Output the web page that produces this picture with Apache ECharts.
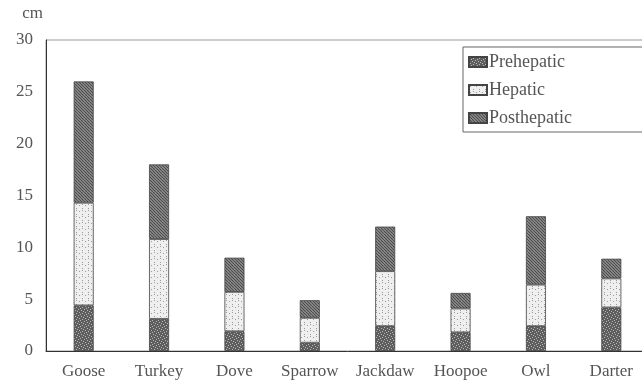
<!DOCTYPE html>
<html>
<head>
<meta charset="utf-8">
<script src="https://cdn.jsdelivr.net/npm/echarts@6/dist/echarts.min.js"></script>
<style>
  html, body { margin: 0; padding: 0; background: #fff; overflow: hidden; }
  /* the drawing runs a little past the right edge of the window */
  #chart { width: 660px; height: 389px; }
</style>
</head>
<body>
<div id="chart"></div>
<script>
// Intestinal length by segment (cm)
const birds = ['Goose', 'Turkey', 'Dove', 'Sparrow', 'Jackdaw', 'Hoopoe', 'Owl', 'Darter'];
const prehepatic  = [4.4, 3.1, 1.9, 0.8, 2.4, 1.8, 2.4, 4.2];
const hepatic     = [9.9, 7.7, 3.8, 2.4, 5.3, 2.3, 4.0, 2.8];
const posthepatic = [11.7, 7.2, 3.3, 1.7, 4.3, 1.5, 6.6, 1.9];
const yTicks = [0, 5, 10, 15, 20, 25, 30];

// Fill textures for the three segments
function makePattern(kind) {
  const c = document.createElement('canvas');
  c.width = 6; c.height = 6;
  const g = c.getContext('2d');
  if (kind === 'pre') {
    g.fillStyle = '#5e5e5e'; g.fillRect(0, 0, 6, 6);
    g.fillStyle = '#b8b8b8';
    g.fillRect(1, 0, 1, 1); g.fillRect(4, 1, 1, 1); g.fillRect(0, 3, 1, 1);
    g.fillRect(3, 4, 1, 1); g.fillRect(2, 2, 1, 1); g.fillRect(5, 5, 1, 1);
  } else if (kind === 'hep') {
    g.fillStyle = '#efefef'; g.fillRect(0, 0, 6, 6);
    g.fillStyle = '#9a9a9a';
    g.fillRect(1, 1, 1, 1); g.fillRect(4, 4, 1, 1); g.fillRect(4, 0, 1, 1);
  } else {
    g.fillStyle = '#9c9c9c'; g.fillRect(0, 0, 6, 6);
    g.strokeStyle = '#4a4a4a'; g.lineWidth = 1.2;
    for (let k = -6; k <= 12; k += 3) {
      g.beginPath(); g.moveTo(k, 0); g.lineTo(k + 6, 6); g.stroke();
    }
  }
  return { image: c, repeat: 'repeat' };
}

const serif = 'Liberation Serif';
const txt = '#555';

const chart = echarts.init(document.getElementById('chart'), null, { renderer: 'canvas' });

function seriesOf(name, data, kind) {
  return {
    name: name,
    type: 'bar',
    stack: 'gut',
    data: data,
    barWidth: 20,
    itemStyle: { color: makePattern(kind), borderColor: '#444', borderWidth: 0.8 },
    emphasis: { disabled: true }
  };
}

chart.setOption({
  animation: false,
  backgroundColor: '#fff',
  grid: {
    left: 46, top: 40, width: 603, height: 311,
    show: true, borderColor: '#999', borderWidth: 1, backgroundColor: 'transparent'
  },
  legend: {
    left: 463, top: 47,
    orient: 'vertical',
    icon: 'rect',
    itemWidth: 18, itemHeight: 10, itemGap: 10,
    padding: [6, 100, 5, 5],
    borderColor: '#666', borderWidth: 1, backgroundColor: '#fff',
    textStyle: { fontFamily: serif, fontSize: 18, color: txt, padding: [0, 0, 0, -3] },
    data: ['Prehepatic', 'Hepatic', 'Posthepatic']
  },
  xAxis: {
    type: 'category',
    data: birds,
    axisLine: { lineStyle: { color: '#333', width: 1 } },
    axisTick: { show: false },
    axisLabel: { fontFamily: serif, fontSize: 17, color: txt, margin: 12, interval: 0 }
  },
  yAxis: {
    type: 'value',
    min: yTicks[0], max: yTicks[yTicks.length - 1], interval: 5,
    name: 'cm',
    nameGap: 18,
    nameTextStyle: { fontFamily: serif, fontSize: 17, color: txt, align: 'right', padding: [0, 3, 0, 0] },
    axisLine: { show: true, lineStyle: { color: '#333', width: 1 } },
    axisTick: { show: false },
    splitLine: { show: false },
    axisLabel: { fontFamily: serif, fontSize: 17, color: txt, margin: 13 }
  },
  series: [
    seriesOf('Prehepatic', prehepatic, 'pre'),
    seriesOf('Hepatic', hepatic, 'hep'),
    seriesOf('Posthepatic', posthepatic, 'post')
  ]
});
</script>
</body>
</html>
